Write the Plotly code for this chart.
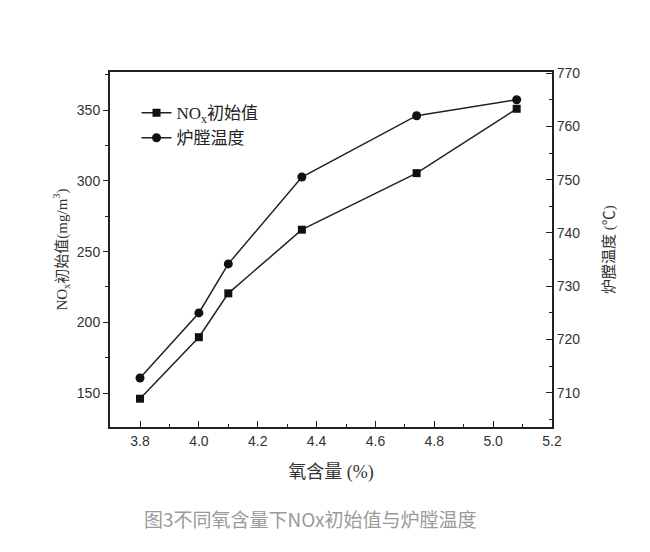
import plotly.graph_objects as go

oxygen = [3.8, 4.0, 4.1, 4.35, 4.74, 5.08]
nox_initial = [146, 189.5, 220.5, 265.5, 305.5, 351]
furnace_temp = [712.8, 725, 734.2, 750.5, 762, 765]

x_ticks = [3.8, 4.0, 4.2, 4.4, 4.6, 4.8, 5.0, 5.2]
y_ticks = [150, 200, 250, 300, 350]
y2_ticks = [710, 720, 730, 740, 750, 760, 770]

line_col = "#222222"
tick_font = dict(family="Liberation Sans, Arial, sans-serif", size=14, color="#333333")
cjk = "Liberation Serif, Noto Sans CJK SC, serif"

fig = go.Figure()
fig.add_trace(go.Scatter(
    x=oxygen, y=nox_initial, mode="lines+markers",
    name="NO<sub>x</sub>初始值",
    line=dict(color=line_col, width=1.5),
    marker=dict(symbol="square", size=8, color="#111111"),
))
fig.add_trace(go.Scatter(
    x=oxygen, y=furnace_temp, mode="lines+markers",
    name="炉膛温度", yaxis="y2",
    line=dict(color=line_col, width=1.5),
    marker=dict(symbol="circle", size=9, color="#111111"),
))

fig.update_layout(
    width=650, height=552,
    margin=dict(l=102, r=106, t=64, b=133),
    paper_bgcolor="white", plot_bgcolor="white",
    showlegend=True,
    legend=dict(x=0.06, y=0.935, xanchor="left", yanchor="top",
                bgcolor="rgba(0,0,0,0)",
                font=dict(family=cjk, size=17, color="#222222"),
                tracegroupgap=2, itemwidth=30),
    xaxis=dict(range=[3.698, 5.2], tickvals=x_ticks,
               ticktext=[f"{v:.1f}" for v in x_ticks],
               ticks="inside", ticklen=6, tickcolor=line_col,
               minor=dict(dtick=0.1, tick0=3.8, ticks="inside", ticklen=3, tickcolor=line_col),
               showline=True, linecolor=line_col, linewidth=2, mirror=True,
               showgrid=False, zeroline=False, tickfont=tick_font,
               title=dict(text="氧含量 (%)", font=dict(family=cjk, size=18, color="#333333"), standoff=18)),
    yaxis=dict(range=[126, 377], tickvals=y_ticks,
               ticks="outside", ticklen=5, tickcolor=line_col,
               minor=dict(dtick=25, tick0=150, ticks="outside", ticklen=3, tickcolor=line_col),
               showline=True, linecolor=line_col, linewidth=2,
               showgrid=False, zeroline=False, tickfont=tick_font,
               title=dict(text="NO<sub>x</sub>初始值(mg/m<sup>3</sup>)",
                          font=dict(family=cjk, size=15, color="#333333"), standoff=6)),
    yaxis2=dict(range=[703.6, 770.2], tickvals=y2_ticks, overlaying="y", side="right",
                ticks="inside", ticklen=6, tickcolor=line_col,
                minor=dict(dtick=5, tick0=710, ticks="inside", ticklen=3, tickcolor=line_col),
                showline=True, linecolor=line_col, linewidth=2,
                showgrid=False, zeroline=False, tickfont=tick_font,
                title=dict(text="炉膛温度 (℃)", font=dict(family=cjk, size=15, color="#333333"), standoff=24)),
    annotations=[dict(text="图3不同氧含量下NOx初始值与炉膛温度", xref="paper", yref="paper",
                      x=0.453, y=-0.259, xanchor="center", yanchor="middle", showarrow=False,
                      font=dict(family="Noto Sans CJK SC, sans-serif", size=19, color="#9a9a9a"))],
)

fig.write_html("out.html")
